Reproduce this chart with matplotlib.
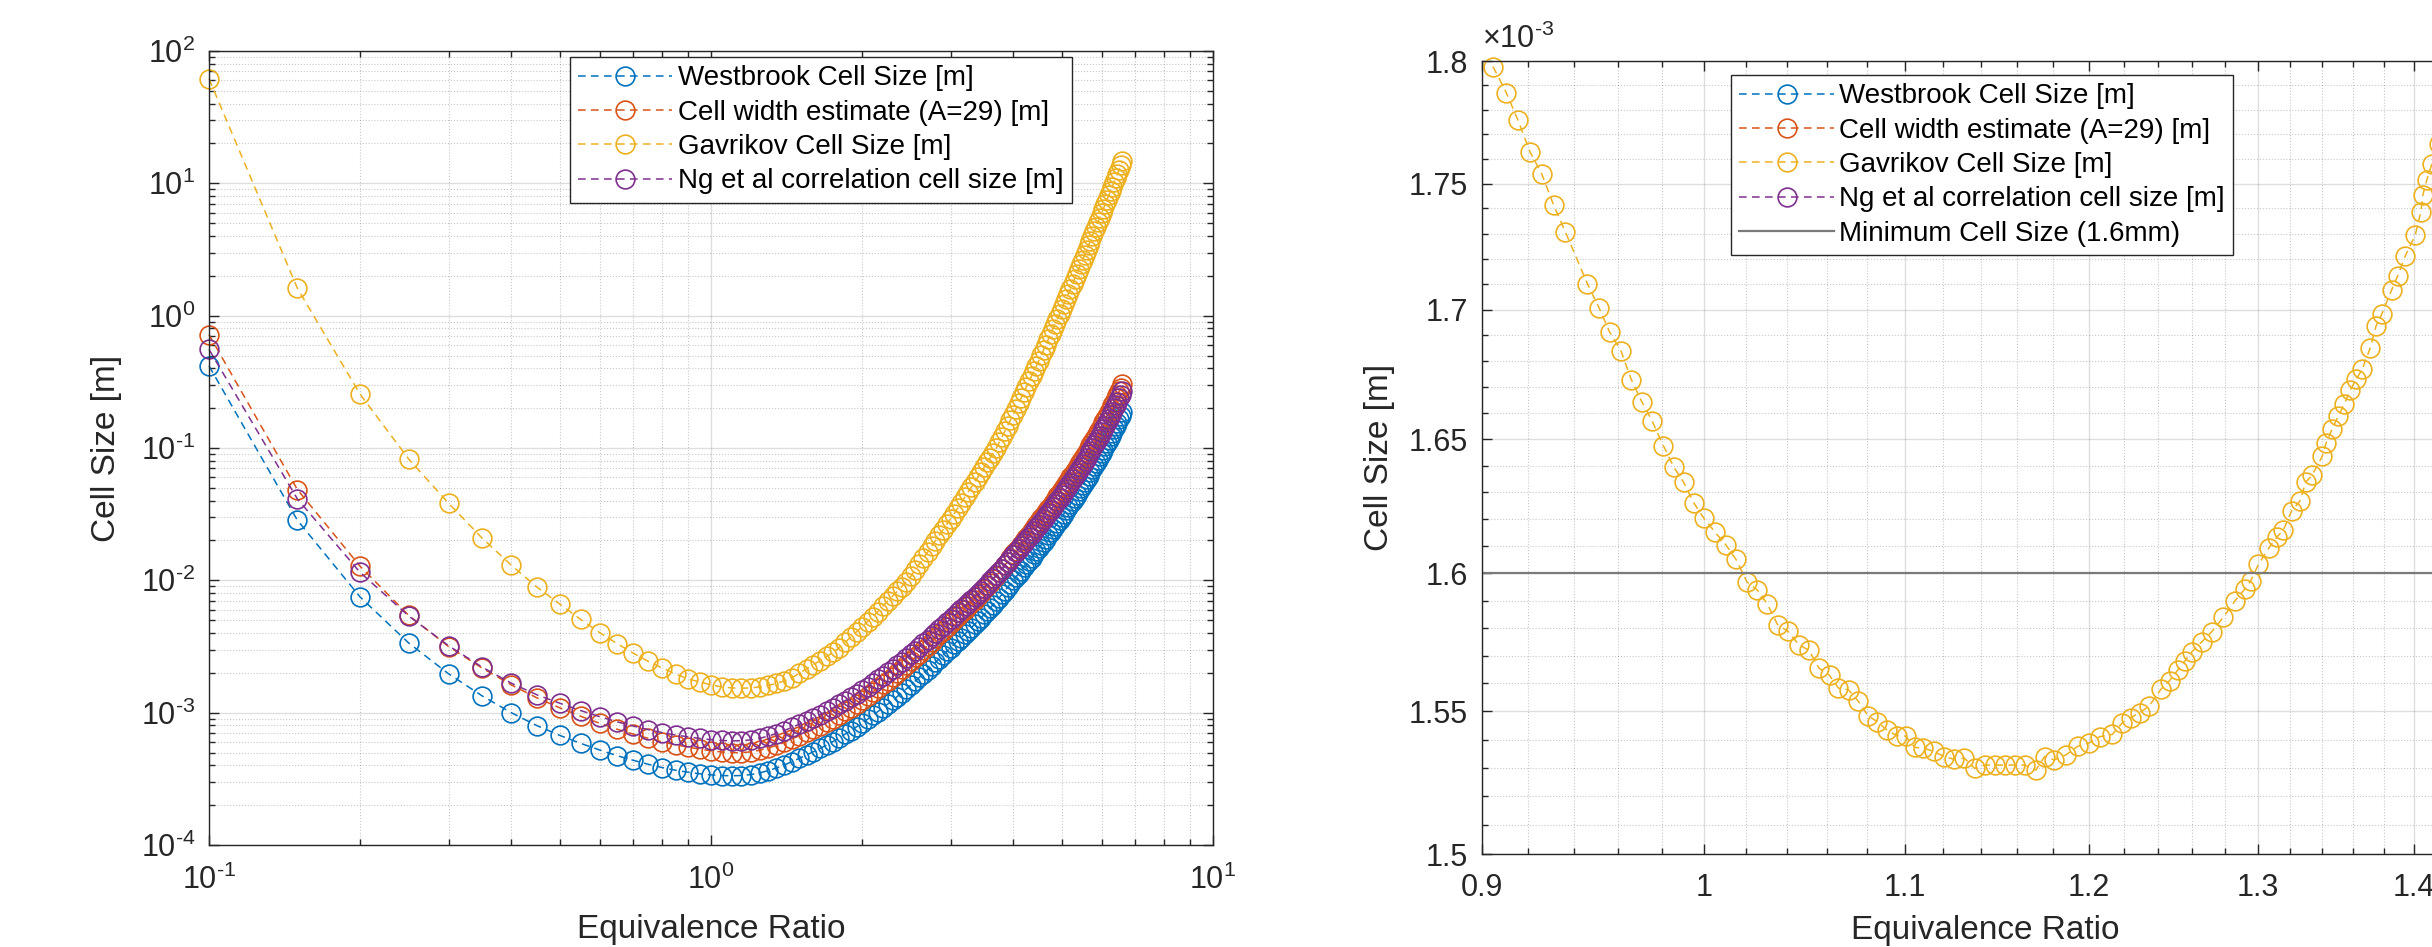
import matplotlib
matplotlib.use('Agg')
import matplotlib.pyplot as plt
from matplotlib.ticker import FixedLocator, FixedFormatter, LogLocator, NullFormatter, FuncFormatter
import numpy as np

plt.rcParams['font.family'] = ['Liberation Sans', 'DejaVu Sans']
plt.rcParams['mathtext.fontset'] = 'custom'
plt.rcParams['mathtext.rm'] = 'Liberation Sans'
plt.rcParams['mathtext.default'] = 'regular'
plt.rcParams['axes.unicode_minus'] = False

# equivalence ratio (left plot sampling)
phi = [0.10, 0.15, 0.20, 0.25, 0.30, 0.35, 0.40, 0.45, 0.50, 0.55,
       0.60, 0.65, 0.70, 0.75, 0.80, 0.85, 0.90, 0.95, 1.00, 1.05,
       1.10, 1.15, 1.20, 1.25, 1.30, 1.35, 1.40, 1.45, 1.50, 1.55,
       1.60, 1.65, 1.70, 1.75, 1.80, 1.85, 1.90, 1.95, 2.00, 2.05,
       2.10, 2.15, 2.20, 2.25, 2.30, 2.35, 2.40, 2.45, 2.50, 2.55,
       2.60, 2.65, 2.70, 2.75, 2.80, 2.85, 2.90, 2.95, 3.00, 3.05,
       3.10, 3.15, 3.20, 3.25, 3.30, 3.35, 3.40, 3.45, 3.50, 3.55,
       3.60, 3.65, 3.70, 3.75, 3.80, 3.85, 3.90, 3.95, 4.00, 4.05,
       4.10, 4.15, 4.20, 4.25, 4.30, 4.35, 4.40, 4.45, 4.50, 4.55,
       4.60, 4.65, 4.70, 4.75, 4.80, 4.85, 4.90, 4.95, 5.00, 5.05,
       5.10, 5.15, 5.20, 5.25, 5.30, 5.35, 5.40, 5.45, 5.50, 5.55,
       5.60, 5.65, 5.70, 5.75, 5.80, 5.85, 5.90, 5.95, 6.00, 6.05,
       6.10, 6.15, 6.20, 6.25, 6.30, 6.35, 6.40, 6.45, 6.50, 6.55,
       6.60]

# cell sizes, as log10 of metres
westbrook_exp = [-0.380, -1.546, -2.126, -2.474, -2.706, -2.873, -3.000, -3.098, -3.172, -3.232,
                 -3.282, -3.325, -3.360, -3.390, -3.415, -3.435, -3.450, -3.462, -3.470, -3.475,
                 -3.477, -3.475, -3.468, -3.455, -3.438, -3.418, -3.395, -3.370, -3.345, -3.320,
                 -3.295, -3.270, -3.245, -3.218, -3.190, -3.162, -3.135, -3.107, -3.078, -3.050,
                 -3.020, -2.992, -2.964, -2.935, -2.906, -2.878, -2.850, -2.820, -2.792, -2.763,
                 -2.734, -2.705, -2.677, -2.648, -2.620, -2.592, -2.564, -2.536, -2.508, -2.483,
                 -2.458, -2.433, -2.408, -2.383, -2.358, -2.333, -2.308, -2.283, -2.258, -2.233,
                 -2.208, -2.183, -2.158, -2.132, -2.105, -2.078, -2.052, -2.025, -1.998, -1.974,
                 -1.950, -1.926, -1.901, -1.877, -1.853, -1.828, -1.804, -1.780, -1.755, -1.732,
                 -1.708, -1.685, -1.661, -1.638, -1.614, -1.591, -1.567, -1.544, -1.520, -1.496,
                 -1.472, -1.448, -1.424, -1.400, -1.376, -1.352, -1.328, -1.304, -1.280, -1.256,
                 -1.232, -1.208, -1.184, -1.160, -1.136, -1.112, -1.088, -1.064, -1.040, -1.014,
                 -0.988, -0.963, -0.937, -0.911, -0.885, -0.859, -0.834, -0.808, -0.782, -0.756,
                 -0.730]

cellwidth_exp = [-0.144, -1.314, -1.894, -2.265, -2.500, -2.663, -2.790, -2.888, -2.964, -3.027,
                 -3.080, -3.125, -3.162, -3.194, -3.221, -3.243, -3.260, -3.276, -3.288, -3.297,
                 -3.302, -3.302, -3.296, -3.284, -3.267, -3.247, -3.224, -3.199, -3.174, -3.149,
                 -3.124, -3.098, -3.073, -3.046, -3.017, -2.989, -2.961, -2.933, -2.903, -2.875,
                 -2.844, -2.816, -2.787, -2.758, -2.728, -2.700, -2.671, -2.641, -2.612, -2.583,
                 -2.553, -2.524, -2.495, -2.466, -2.437, -2.409, -2.380, -2.352, -2.323, -2.298,
                 -2.272, -2.247, -2.221, -2.196, -2.170, -2.145, -2.119, -2.094, -2.068, -2.043,
                 -2.017, -1.992, -1.966, -1.940, -1.912, -1.885, -1.858, -1.831, -1.803, -1.779,
                 -1.754, -1.730, -1.704, -1.680, -1.655, -1.630, -1.605, -1.581, -1.555, -1.532,
                 -1.508, -1.485, -1.461, -1.438, -1.413, -1.390, -1.366, -1.343, -1.318, -1.294,
                 -1.270, -1.246, -1.221, -1.197, -1.173, -1.149, -1.124, -1.100, -1.076, -1.052,
                 -1.027, -1.003, -0.979, -0.955, -0.930, -0.906, -0.882, -0.858, -0.833, -0.807,
                 -0.781, -0.756, -0.729, -0.703, -0.677, -0.651, -0.625, -0.599, -0.573, -0.547,
                 -0.520]

gavrikov_exp = [1.790, 0.207, -0.594, -1.084, -1.417, -1.681, -1.885, -2.051, -2.180, -2.295,
                -2.395, -2.478, -2.550, -2.612, -2.663, -2.707, -2.745, -2.768, -2.790, -2.805,
                -2.813, -2.815, -2.813, -2.805, -2.794, -2.779, -2.760, -2.736, -2.702, -2.670,
                -2.638, -2.606, -2.575, -2.545, -2.510, -2.469, -2.428, -2.389, -2.351, -2.313,
                -2.276, -2.236, -2.194, -2.156, -2.119, -2.082, -2.047, -2.012, -1.971, -1.924,
                -1.878, -1.832, -1.787, -1.744, -1.700, -1.658, -1.617, -1.576, -1.536, -1.497,
                -1.455, -1.414, -1.374, -1.335, -1.295, -1.257, -1.219, -1.181, -1.145, -1.108,
                -1.072, -1.037, -1.002, -0.958, -0.915, -0.873, -0.831, -0.789, -0.748, -0.705,
                -0.662, -0.620, -0.578, -0.537, -0.497, -0.457, -0.417, -0.378, -0.339, -0.298,
                -0.258, -0.218, -0.179, -0.140, -0.101, -0.063, -0.024, 0.013, 0.050, 0.089,
                0.127, 0.164, 0.203, 0.241, 0.278, 0.314, 0.351, 0.387, 0.423, 0.460,
                0.496, 0.532, 0.567, 0.603, 0.637, 0.672, 0.706, 0.740, 0.774, 0.808,
                0.842, 0.876, 0.909, 0.942, 0.975, 1.008, 1.040, 1.072, 1.104, 1.136,
                1.167]

ng_exp = [-0.255, -1.385, -1.940, -2.270, -2.494, -2.656, -2.777, -2.865, -2.929, -2.984,
          -3.030, -3.069, -3.101, -3.128, -3.151, -3.169, -3.182, -3.195, -3.204, -3.210,
          -3.213, -3.212, -3.206, -3.194, -3.177, -3.158, -3.135, -3.111, -3.087, -3.063,
          -3.039, -3.014, -2.990, -2.964, -2.936, -2.910, -2.884, -2.858, -2.830, -2.804,
          -2.775, -2.749, -2.722, -2.695, -2.667, -2.641, -2.614, -2.586, -2.559, -2.532,
          -2.504, -2.477, -2.450, -2.423, -2.396, -2.370, -2.343, -2.317, -2.290, -2.267,
          -2.243, -2.220, -2.196, -2.173, -2.149, -2.126, -2.102, -2.079, -2.055, -2.032,
          -2.008, -1.985, -1.961, -1.937, -1.911, -1.886, -1.861, -1.836, -1.810, -1.788,
          -1.765, -1.743, -1.719, -1.697, -1.674, -1.651, -1.628, -1.606, -1.581, -1.559,
          -1.536, -1.514, -1.491, -1.469, -1.445, -1.423, -1.400, -1.378, -1.354, -1.331,
          -1.308, -1.285, -1.261, -1.238, -1.215, -1.192, -1.168, -1.144, -1.121, -1.097,
          -1.073, -1.049, -1.026, -1.002, -0.978, -0.954, -0.930, -0.907, -0.882, -0.856,
          -0.831, -0.806, -0.779, -0.753, -0.727, -0.701, -0.675, -0.649, -0.623, -0.597,
          -0.570]

# right plot: finer Gavrikov run near the minimum (cell size in mm, i.e. x1e-3 m)
phi_fine = [0.9047, 0.9104, 0.9155, 0.9207, 0.9259, 0.9311, 0.9363, 0.9461, 0.9513, 0.9561,
            0.9613, 0.9660, 0.9708, 0.9756, 0.9808, 0.9857, 0.9903, 0.9950, 0.9998, 1.0051,
            1.0103, 1.0152, 1.0204, 1.0254, 1.0303, 1.0354, 1.0405, 1.0458, 1.0509, 1.0559,
            1.0612, 1.0657, 1.0708, 1.0758, 1.0807, 1.0856, 1.0906, 1.0955, 1.1002, 1.1050,
            1.1094, 1.1149, 1.1204, 1.1258, 1.1313, 1.1368, 1.1422, 1.1477, 1.1532, 1.1586,
            1.1641, 1.1702, 1.1751, 1.1805, 1.1871, 1.1937, 1.2002, 1.2062, 1.2134, 1.2193,
            1.2241, 1.2296, 1.2349, 1.2420, 1.2468, 1.2516, 1.2558, 1.2600, 1.2659, 1.2719,
            1.2791, 1.2862, 1.2921, 1.2957, 1.3005, 1.3069, 1.3121, 1.3159, 1.3211, 1.3262,
            1.3301, 1.3339, 1.3404, 1.3429, 1.3467, 1.3506, 1.3545, 1.3584, 1.3622, 1.3661,
            1.3712, 1.3751, 1.3789, 1.3853, 1.3892, 1.3943, 1.4008, 1.4046, 1.4059, 1.4085,
            1.4120, 1.4170, 1.4220, 1.4270, 1.4320, 1.4360]
gavrikov_fine_mm = [1.7977, 1.7870, 1.7756, 1.7628, 1.7538, 1.7413, 1.7306, 1.7102, 1.7008, 1.6913,
                    1.6839, 1.6729, 1.6644, 1.6570, 1.6477, 1.6395, 1.6338, 1.6262, 1.6204, 1.6152,
                    1.6105, 1.6051, 1.5969, 1.5939, 1.5888, 1.5812, 1.5788, 1.5740, 1.5719, 1.5655,
                    1.5629, 1.5583, 1.5577, 1.5536, 1.5484, 1.5463, 1.5433, 1.5414, 1.5412, 1.5372,
                    1.5370, 1.5358, 1.5340, 1.5330, 1.5334, 1.5298, 1.5310, 1.5310, 1.5310, 1.5310,
                    1.5310, 1.5292, 1.5340, 1.5328, 1.5346, 1.5376, 1.5388, 1.5410, 1.5418, 1.5460,
                    1.5478, 1.5496, 1.5520, 1.5581, 1.5610, 1.5647, 1.5680, 1.5713, 1.5749, 1.5786,
                    1.5840, 1.5900, 1.5942, 1.5972, 1.6033, 1.6093, 1.6135, 1.6159, 1.6231, 1.6267,
                    1.6340, 1.6364, 1.6436, 1.6487, 1.6540, 1.6588, 1.6635, 1.6689, 1.6730, 1.6769,
                    1.6850, 1.6937, 1.6984, 1.7078, 1.7132, 1.7212, 1.7293, 1.7387, 1.7454, 1.7514,
                    1.7580, 1.7660, 1.7750, 1.7830, 1.7910, 1.7980]
min_cell = 1.6e-3

labels = ['Westbrook Cell Size [m]', 'Cell width estimate (A=29) [m]',
          'Gavrikov Cell Size [m]', 'Ng et al correlation cell size [m]']
colors = ['#0072BD', '#D95319', '#EDB120', '#7E2F8E']

westbrook = 10 ** np.array(westbrook_exp)
cellwidth = 10 ** np.array(cellwidth_exp)
gavrikov = 10 ** np.array(gavrikov_exp)
ng = 10 ** np.array(ng_exp)
gavrikov_fine = np.array(gavrikov_fine_mm) * 1e-3

W, H = 2432, 947
fig = plt.figure(figsize=(W / 100, H / 100), dpi=100)
ax1 = fig.add_axes([209 / W, 1 - 845 / H, 1004 / W, 794 / H])
ax2 = fig.add_axes([1482 / W, 1 - 854 / H, 1006 / W, 793 / H])

ink = '#262626'
mk = dict(marker='o', mfc='none', ms=13.5, mew=1.2, lw=1.1, ls=(0, (5, 3.5)))
HY = '\u2010'  # short hyphen like the MATLAB exponent sign


def pow10(v, pos):
    e = int(round(np.log10(v)))
    s = (HY + str(-e)) if e < 0 else str(e)
    return '10$^{' + s + '}$'


def style(ax):
    for s in ax.spines.values():
        s.set_color(ink)
        s.set_linewidth(1.0)
    ax.tick_params(which='both', direction='in', top=True, right=True,
                   color=ink, labelcolor=ink, labelsize=22, width=1.0)
    ax.tick_params(which='major', length=7)
    ax.tick_params(which='minor', length=4)
    ax.tick_params(axis='x', pad=14)
    ax.tick_params(axis='y', pad=10)
    ax.grid(which='major', color=ink, alpha=0.15, lw=1.0)
    ax.grid(which='minor', color=ink, alpha=0.25, lw=0.8, ls=':')
    ax.set_axisbelow(True)
    ax.set_xlabel('Equivalence Ratio', fontsize=24, color=ink)
    ax.set_ylabel('Cell Size [m]', fontsize=24, color=ink)


# left: full range
series = [westbrook, cellwidth, gavrikov, ng]
for y, c, lab in zip(series, colors, labels):
    ax1.plot(phi, y, color=c, label=lab, clip_on=False, **mk)
ax1.set_xscale('log')
ax1.set_yscale('log')
ax1.set_xlim(0.1, 10)
ax1.set_ylim(1e-4, 1e2)
ax1.xaxis.set_major_locator(FixedLocator([0.1, 1, 10]))
ax1.yaxis.set_major_locator(FixedLocator([1e-4, 1e-3, 1e-2, 1e-1, 1, 10, 100]))
ax1.xaxis.set_major_formatter(FuncFormatter(pow10))
ax1.yaxis.set_major_formatter(FuncFormatter(pow10))
ax1.xaxis.set_minor_locator(LogLocator(base=10, subs=np.arange(2, 10), numticks=100))
ax1.yaxis.set_minor_locator(LogLocator(base=10, subs=np.arange(2, 10), numticks=100))
ax1.xaxis.set_minor_formatter(NullFormatter())
ax1.yaxis.set_minor_formatter(NullFormatter())
style(ax1)
ax1.xaxis.set_label_coords(0.5, -0.107)
ax1.yaxis.set_label_coords(-0.1016, 0.5)
leg1 = ax1.legend(loc='upper right', bbox_to_anchor=(1072 / W, 1 - 57 / H),
                  bbox_transform=fig.transFigure, fontsize=20, fancybox=False,
                  edgecolor=ink, framealpha=1, borderpad=0.3, labelspacing=0.3,
                  handlelength=3.4, handletextpad=0.2, borderaxespad=0, numpoints=1)
leg1.get_frame().set_linewidth(1.0)

# right: zoom on the Gavrikov minimum
ax2.plot(phi, westbrook, color=colors[0], label=labels[0], **mk)
ax2.plot(phi, cellwidth, color=colors[1], label=labels[1], **mk)
ax2.plot(phi_fine, gavrikov_fine, color=colors[2], label=labels[2], clip_on=False, **mk)
ax2.plot(phi, ng, color=colors[3], label=labels[3], **mk)
ax2.axhline(min_cell, color='#7a7a7a', lw=1.6, label='Minimum Cell Size (1.6mm)')
ax2.set_xscale('log')
ax2.set_yscale('log')
ax2.set_xlim(0.9, 1.45)
ax2.set_ylim(1.5e-3, 1.8e-3)
xt = [0.9, 1.0, 1.1, 1.2, 1.3, 1.4]
ax2.xaxis.set_major_locator(FixedLocator(xt))
ax2.xaxis.set_major_formatter(FixedFormatter(['0.9', '1', '1.1', '1.2', '1.3', '1.4']))
ax2.xaxis.set_minor_locator(FixedLocator([v for v in np.arange(0.92, 1.45, 0.02)
                                          if min(abs(v - t) for t in xt) > 1e-6]))
ax2.xaxis.set_minor_formatter(NullFormatter())
yt = [1.5e-3, 1.55e-3, 1.6e-3, 1.65e-3, 1.7e-3, 1.75e-3, 1.8e-3]
ax2.yaxis.set_major_locator(FixedLocator(yt))
ax2.yaxis.set_major_formatter(FixedFormatter(['1.5', '1.55', '1.6', '1.65', '1.7', '1.75', '1.8']))
ax2.yaxis.set_minor_locator(FixedLocator([v for v in np.arange(1.51e-3, 1.8e-3, 0.01e-3)
                                          if min(abs(v - t) for t in yt) > 1e-9]))
ax2.yaxis.set_minor_formatter(NullFormatter())
style(ax2)
ax2.xaxis.set_label_coords(0.5, -0.096)
ax2.yaxis.set_label_coords(-0.1014, 0.5)
ax2.text(0, 1.008, '×10$^{' + HY + '3}$', transform=ax2.transAxes, ha='left', va='bottom',
         fontsize=22, color=ink)
leg2 = ax2.legend(loc='upper left', bbox_to_anchor=(1731 / W, 1 - 75 / H),
                  bbox_transform=fig.transFigure, fontsize=20, fancybox=False,
                  edgecolor=ink, framealpha=1, borderpad=0.3, labelspacing=0.3,
                  handlelength=3.4, handletextpad=0.2, borderaxespad=0, numpoints=1)
leg2.get_frame().set_linewidth(1.0)

for ax in (ax1, ax2):
    ax.xaxis.label.set_va('center')
    ax.yaxis.label.set_va('center')

fig.savefig('out.png', dpi=100)
